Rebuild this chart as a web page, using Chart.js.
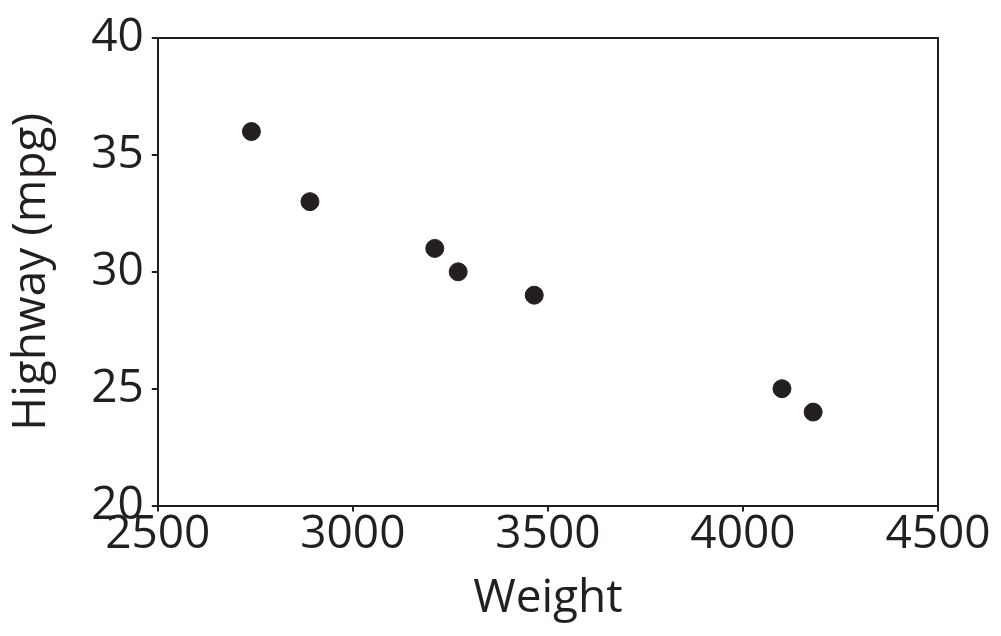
<!DOCTYPE html>
<html>
<head>
<meta charset="utf-8">
<script src="https://cdn.jsdelivr.net/npm/chart.js@4/dist/chart.umd.min.js"></script>
<style>
html,body{margin:0;padding:0;background:#fff;}
#wrap{width:1001px;height:636px;position:relative;}
</style>
</head>
<body>
<div id="wrap"><canvas id="c" width="1001" height="636"></canvas></div>
<script>
const weights = [2740, 2890, 3210, 3270, 3465, 4100, 4180];
const highway = [36, 33, 31, 30, 29, 25, 24];
const xTicks = [2500, 3000, 3500, 4000, 4500];
const yTicks = [20, 25, 30, 35, 40];
const xTitle = 'Weight';
const yTitle = 'Highway (mpg)';

const ink = '#231f20';
const fontFam = '"Open Sans", "DejaVu Sans", sans-serif';

const framePlugin = {
  id: 'frame',
  afterDatasetsDraw(chart) {
    const {ctx, chartArea: a} = chart;
    ctx.save();
    ctx.strokeStyle = ink;
    ctx.lineWidth = 2;
    ctx.beginPath();
    ctx.moveTo(a.left, a.top);
    ctx.lineTo(a.right, a.top);
    ctx.lineTo(a.right, a.bottom);
    ctx.stroke();
    ctx.restore();
  }
};

new Chart(document.getElementById('c'), {
  type: 'scatter',
  data: {
    datasets: [{
      data: weights.map((w, i) => ({x: w, y: highway[i]})),
      backgroundColor: ink,
      borderColor: ink,
      pointRadius: 9,
      pointHoverRadius: 9
    }]
  },
  options: {
    responsive: false,
    animation: false,
    events: [],
    layout: {padding: {top: 38, right: 63, left: 4, bottom: 10}},
    plugins: {legend: {display: false}, tooltip: {enabled: false}},
    scales: {
      x: {
        type: 'linear',
        min: 2500, max: 4500,
        afterBuildTicks: s => { s.ticks = xTicks.map(v => ({value: v})); },
        grid: {display: true, drawOnChartArea: false, drawTicks: true, tickLength: 6, color: ink, lineWidth: 2},
        border: {display: true, color: ink, width: 2},
        ticks: {color: ink, font: {family: fontFam, size: 46}, padding: -4, maxRotation: 0, autoSkip: false,
                callback: v => String(v)},
        title: {display: true, text: xTitle, color: ink, font: {family: fontFam, size: 46}, padding: {top: 12, bottom: 0}}
      },
      y: {
        type: 'linear',
        min: 20, max: 40,
        afterBuildTicks: s => { s.ticks = yTicks.map(v => ({value: v})); },
        grid: {display: true, drawOnChartArea: false, drawTicks: true, tickLength: 6, color: ink, lineWidth: 2},
        border: {display: true, color: ink, width: 2},
        ticks: {color: ink, font: {family: fontFam, size: 46}, padding: 8, autoSkip: false,
                callback: v => String(v)},
        title: {display: true, text: yTitle, color: ink, font: {family: fontFam, size: 46}, padding: {top: 0, bottom: 24}}
      }
    }
  },
  plugins: [framePlugin]
});
</script>
</body>
</html>
